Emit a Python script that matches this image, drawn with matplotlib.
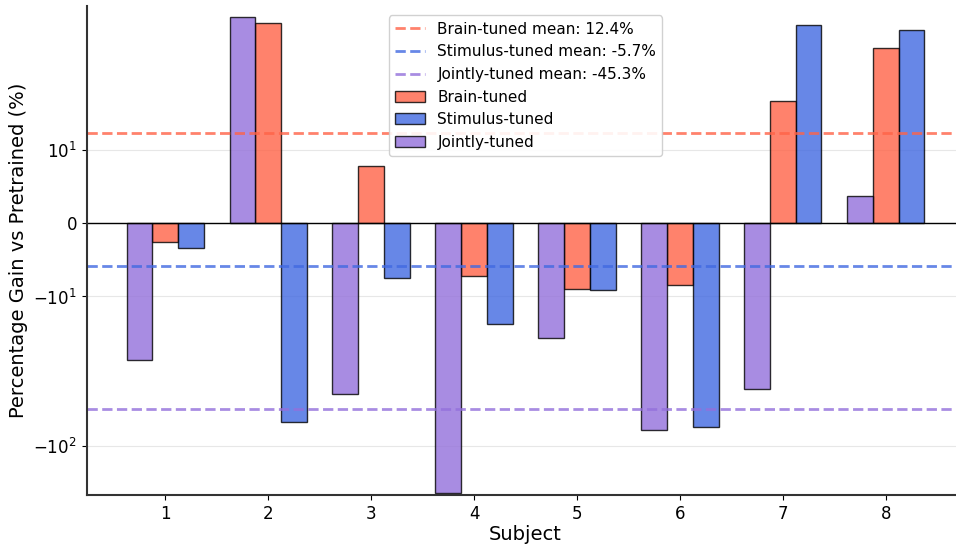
import numpy as np
import matplotlib
matplotlib.use("Agg")
import matplotlib.pyplot as plt

# values (percentage gain vs pretrained)
subjects = [1, 2, 3, 4, 5, 6, 7, 8]
brain_tuned = [-2.5, 71.0, 7.9, -7.2, -9.0, -8.4, 21.3, 48.6]
stimulus_tuned = [-3.3, -69.1, -7.5, -15.3, -9.1, -75.0, 68.9, 63.5]
jointly_tuned = [-26.6, 77.6, -44.9, -205.0, -19.0, -78.5, -41.6, 3.8]

# mean lines as they sit in the picture, and the numbers printed in the legend
mean_levels = [13.0, -5.8, -56.3]
mean_labels = [12.4, -5.7, -45.3]

names = ["Brain-tuned", "Stimulus-tuned", "Jointly-tuned"]
colors = ["tomato", "royalblue", "mediumpurple"]

fig = plt.figure(figsize=(9.56, 5.5), dpi=100)
ax = fig.add_axes([0.0907, 0.1, 0.918, 0.8885])

x = np.array(subjects)
w = 0.25

lines = []
for lvl, lab, name, c in zip(mean_levels, mean_labels, names, colors):
    ln = ax.axhline(lvl, color=c, linestyle="--", linewidth=2, alpha=0.8,
                    label=f"{name} mean: {lab}%")
    lines.append(ln)

bars = []
for vals, off, name, c in zip([brain_tuned, stimulus_tuned, jointly_tuned],
                              [0, w, -w], names, colors):
    b = ax.bar(x + off, vals, w, color=c, alpha=0.8, edgecolor="black",
               linewidth=1, label=name)
    bars.append(b)

ax.axhline(0, color="black", linewidth=1)
ax.set_yscale("symlog", linthresh=10, linscale=0.44)
ax.set_ylim(-213, 92)
ax.set_xlim(0.2375, 8.7625)
ax.set_xticks(subjects)
ax.yaxis.set_minor_locator(matplotlib.ticker.NullLocator())
ax.grid(axis="y", alpha=0.3)
ax.set_axisbelow(True)

for s in ["top", "right"]:
    ax.spines[s].set_visible(False)
for s in ["left", "bottom"]:
    ax.spines[s].set_linewidth(1.5)
    ax.spines[s].set_color("#333333")

ax.tick_params(labelsize=12)
ax.set_xlabel("Subject", fontsize=14, labelpad=2)
ax.set_ylabel("Percentage Gain vs Pretrained (%)", fontsize=14)

ax.legend(handles=lines + bars, loc="upper center", fontsize=11,
          framealpha=0.9, borderaxespad=0.6)

fig.savefig("out.png", dpi=100)
